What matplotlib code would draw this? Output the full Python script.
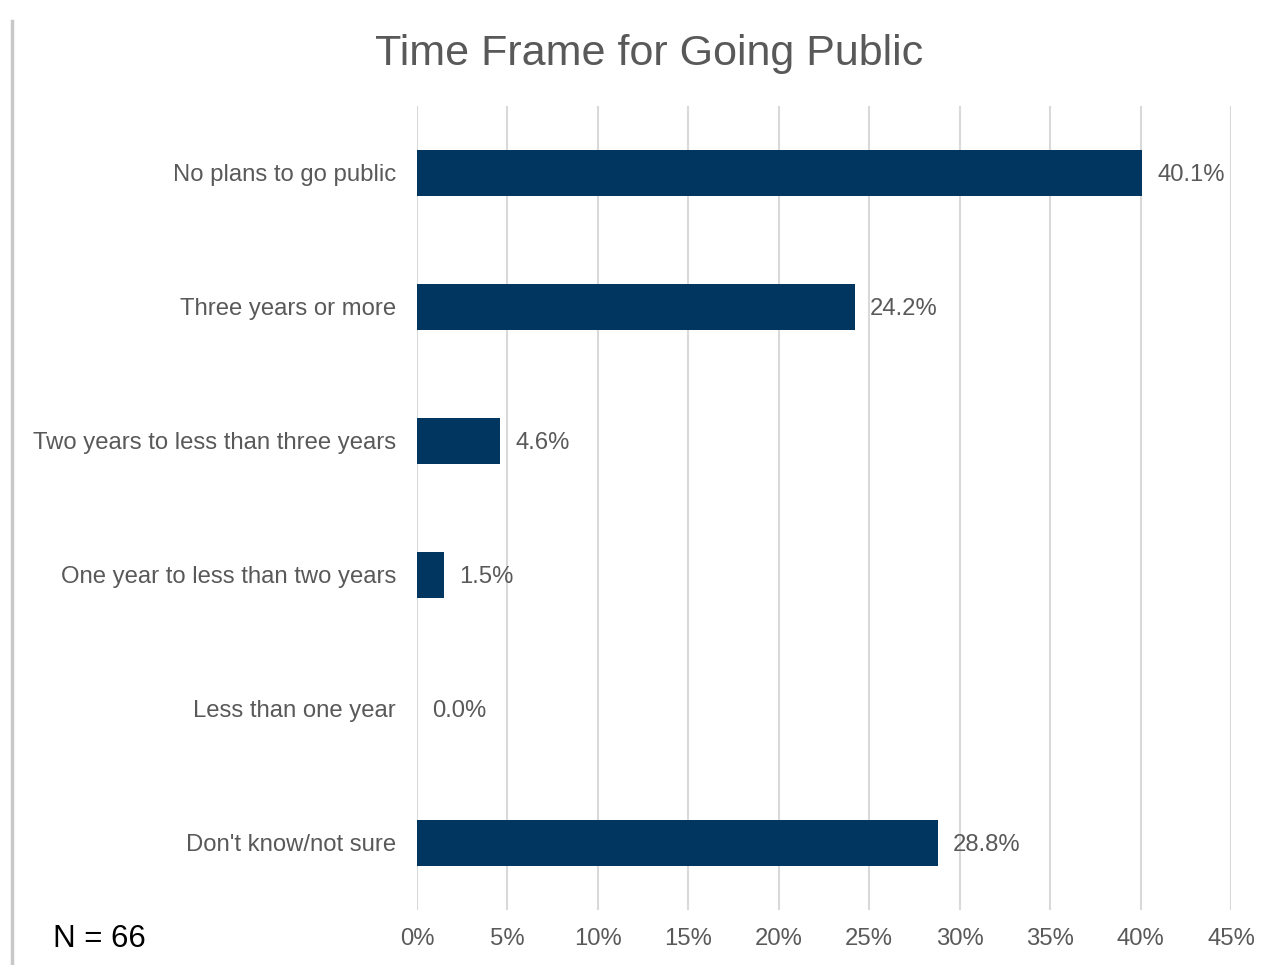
import matplotlib.pyplot as plt
import matplotlib.lines as mlines
import numpy as np

plt.rcParams['font.family'] = ['Liberation Sans', 'DejaVu Sans']

categories = ['No plans to go public', 'Three years or more',
              'Two years to less than three years', 'One year to less than two years',
              'Less than one year', "Don't know/not sure"]
values = [40.1, 24.2, 4.6, 1.5, 0.0, 28.8]
xticks = [0, 5, 10, 15, 20, 25, 30, 35, 40, 45]

text_gray = '#595959'
bar_color = '#00365F'
grid_gray = '#D9D9D9'

fig = plt.figure(figsize=(12.71, 9.65), dpi=100)
ax = fig.add_axes([0.3281, 0.0570, 0.6404, 0.8332])

y = np.arange(len(categories))
ax.barh(y, values, height=0.35, color=bar_color, zorder=3)
ax.set_ylim(len(categories) - 0.5, -0.5)
ax.set_xlim(0, 45)
ax.set_yticks(y)
ax.set_yticklabels(categories, fontsize=17.2, color=text_gray)
ax.set_xticks(xticks)
ax.set_xticklabels([f'{t}%' for t in xticks], fontsize=17.2, color=text_gray)
ax.tick_params(axis='both', length=0)
ax.tick_params(axis='y', pad=15)
ax.tick_params(axis='x', pad=13)
ax.xaxis.grid(True, color=grid_gray, linewidth=1.5, zorder=0)
for s in ax.spines.values():
    s.set_visible(False)

# value labels just past the bar ends
for yi, v in zip(y, values):
    ax.annotate(f'{v:.1f}%', (v, yi), xytext=(11, 0), textcoords='offset points',
                va='center_baseline', ha='left', fontsize=17.2, color=text_gray)

fig.text(0.511, 0.949, 'Time Frame for Going Public', ha='center', va='center_baseline',
         fontsize=31, color=text_gray)
fig.text(0.042, 0.027, 'N = 66', ha='left', va='center', fontsize=22.5, color='black')

# left edge shadow line
fig.add_artist(mlines.Line2D([0.0095, 0.0095], [0, 0.978], transform=fig.transFigure,
                             color='#C8C8C8', linewidth=2.5))

fig.savefig('out.png', dpi=100)
